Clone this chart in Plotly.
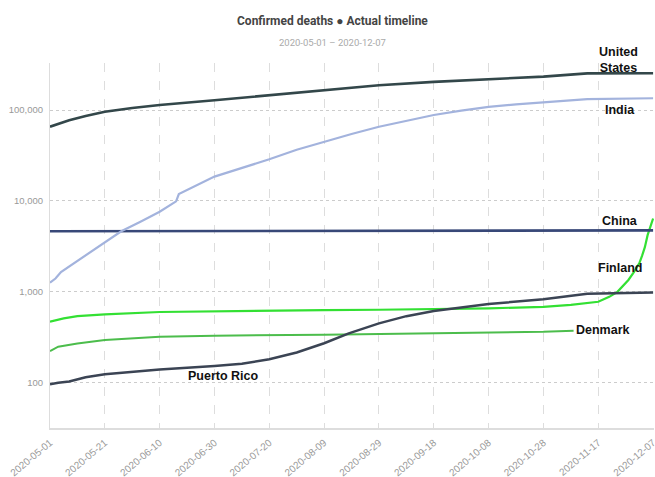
import plotly.graph_objects as go

# ---------------- data ----------------
us_dates = ["2020-05-01", "2020-05-08", "2020-05-14", "2020-05-21", "2020-05-31", "2020-06-10",
            "2020-06-30", "2020-07-20", "2020-08-09", "2020-08-29", "2020-09-18", "2020-10-08",
            "2020-10-28", "2020-11-13", "2020-12-07"]
us_values = [65600, 77000, 86000, 95500, 105000, 113500, 128000, 145000, 165000, 187000,
             204000, 219000, 233000, 253000, 254000]

india_dates = ["2020-05-01", "2020-05-03", "2020-05-05", "2020-05-08", "2020-05-14", "2020-05-21",
               "2020-05-27", "2020-06-03", "2020-06-10", "2020-06-16", "2020-06-17", "2020-06-30",
               "2020-07-10", "2020-07-20", "2020-07-30", "2020-08-09", "2020-08-19", "2020-08-29",
               "2020-09-08", "2020-09-18", "2020-09-28", "2020-10-08", "2020-10-18", "2020-10-28",
               "2020-11-05", "2020-11-13", "2020-12-07"]
india_values = [1260, 1400, 1650, 1900, 2550, 3560, 4640, 5900, 7600, 9900, 11900, 18500,
                23000, 28700, 36500, 44800, 54500, 65400, 76500, 88100, 98500, 108000, 115500,
                121600, 127500, 132000, 134600]

china_dates = ["2020-05-01", "2020-12-07"]
china_values = [4633, 4742]

finland_dates = ["2020-05-01", "2020-05-06", "2020-05-11", "2020-05-21", "2020-06-10", "2020-06-30",
                 "2020-07-20", "2020-08-09", "2020-08-29", "2020-09-18", "2020-10-08", "2020-10-28",
                 "2020-11-07", "2020-11-17", "2020-11-21", "2020-11-24", "2020-11-26", "2020-11-28",
                 "2020-11-30", "2020-12-02", "2020-12-03", "2020-12-04", "2020-12-05", "2020-12-06",
                 "2020-12-07"]
finland_values = [469, 510, 540, 565, 600, 612, 620, 628, 635, 645, 658, 684, 720, 777, 880,
                  1000, 1150, 1350, 1650, 2070, 2500, 3100, 4200, 5300, 6400]

denmark_dates = ["2020-05-01", "2020-05-04", "2020-05-11", "2020-05-21", "2020-06-10", "2020-06-30",
                 "2020-08-09", "2020-09-18", "2020-10-28", "2020-11-08"]
denmark_values = [223, 249, 270, 295, 321, 329, 338, 348, 363, 373]

pr_dates = ["2020-05-01", "2020-05-04", "2020-05-08", "2020-05-14", "2020-05-21", "2020-06-10",
            "2020-06-30", "2020-07-10", "2020-07-20", "2020-07-30", "2020-08-09", "2020-08-18",
            "2020-08-29", "2020-09-08", "2020-09-18", "2020-10-08", "2020-10-28", "2020-11-13",
            "2020-12-07"]
pr_values = [96, 100, 103, 115, 124, 140, 153, 162, 181, 215, 272, 349, 450, 540, 616, 734,
             830, 950, 980]

x_tick_labels = ["2020-05-01", "2020-05-21", "2020-06-10", "2020-06-30", "2020-07-20",
                 "2020-08-09", "2020-08-29", "2020-09-18", "2020-10-08", "2020-10-28",
                 "2020-11-17", "2020-12-07"]
x_range = ["2020-05-01", "2020-12-07 08:00"]
y_tick_values = [100, 1000, 10000, 100000]
y_tick_labels = ["100", "1,000", "10,000", "100,000"]

title_text = "Confirmed deaths \u25cf Actual timeline"
subtitle_text = "2020-05-01 \u2013 2020-12-07"

# ---------------- figure ----------------
series = [
    ("Denmark", denmark_dates, denmark_values, "#4cbd4c", 2),
    ("Finland", finland_dates, finland_values, "#33e033", 2.2),
    ("Puerto Rico", pr_dates, pr_values, "#3b4454", 2.5),
    ("China", china_dates, china_values, "#384878", 2.6),
    ("India", india_dates, india_values, "#a3b3dd", 2.2),
    ("United States", us_dates, us_values, "#33474a", 2.6),
]

fig = go.Figure()
for name, xs, ys, color, w in series:
    fig.add_trace(go.Scatter(x=xs, y=ys, mode="lines", name=name,
                             line=dict(color=color, width=w), showlegend=False))

label_pos = {
    "United States": (0.942, 1.008, "United<br>States"),
    "India": (0.944, 0.871, "India"),
    "China": (0.944, 0.567, "China"),
    "Finland": (0.944, 0.438, "Finland"),
    "Denmark": (0.9155, 0.268, "Denmark"),
    "Puerto Rico": (0.2875, 0.142, "Puerto Rico"),
}
for name, (px, py, txt) in label_pos.items():
    fig.add_annotation(x=px, y=py, xref="paper", yref="paper", text="<b>" + txt + "</b>",
                       showarrow=False, xanchor="center", yanchor="middle",
                       font=dict(family="Liberation Sans, Arial", size=12.5, color="#111"))

fig.add_annotation(x=0.468, y=1.115, xref="paper", yref="paper", text="<b>" + title_text + "</b>",
                   showarrow=False, xanchor="center", yanchor="middle",
                   font=dict(family="Roboto, sans-serif", size=12, color="#444"))
fig.add_annotation(x=0.468, y=1.0575, xref="paper", yref="paper", text=subtitle_text,
                   showarrow=False, xanchor="center", yanchor="middle",
                   font=dict(family="Roboto, sans-serif", size=9.5, color="#aaa"))

fig.update_xaxes(type="date", range=x_range,
                 tickvals=x_tick_labels, ticktext=x_tick_labels, tickangle=-40,
                 showgrid=True, gridcolor="#dddddd", griddash="dash", gridwidth=1,
                 showline=True, linecolor="#dddddd", linewidth=2, ticklabelstandoff=3,
                 ticklabeloverflow="allow",
                 ticks="", tickfont=dict(family="Liberation Sans, Arial", size=10, color="#999"),
                 zeroline=False, automargin=False)
fig.update_yaxes(type="log", range=[1.502, 5.517],
                 tickvals=y_tick_values, ticktext=y_tick_labels,
                 showgrid=True, gridcolor="#cccccc", griddash="dot", gridwidth=1,
                 showline=True, linecolor="#dddddd", linewidth=1, ticklabelstandoff=4,
                 ticks="", tickfont=dict(family="Liberation Sans, Arial", size=9.5, color="#999"),
                 zeroline=False, automargin=False)

fig.update_layout(width=655, height=477, margin=dict(l=50, r=1, t=63, b=49),
                  paper_bgcolor="white", plot_bgcolor="white", showlegend=False)

fig.write_html("out.html")
